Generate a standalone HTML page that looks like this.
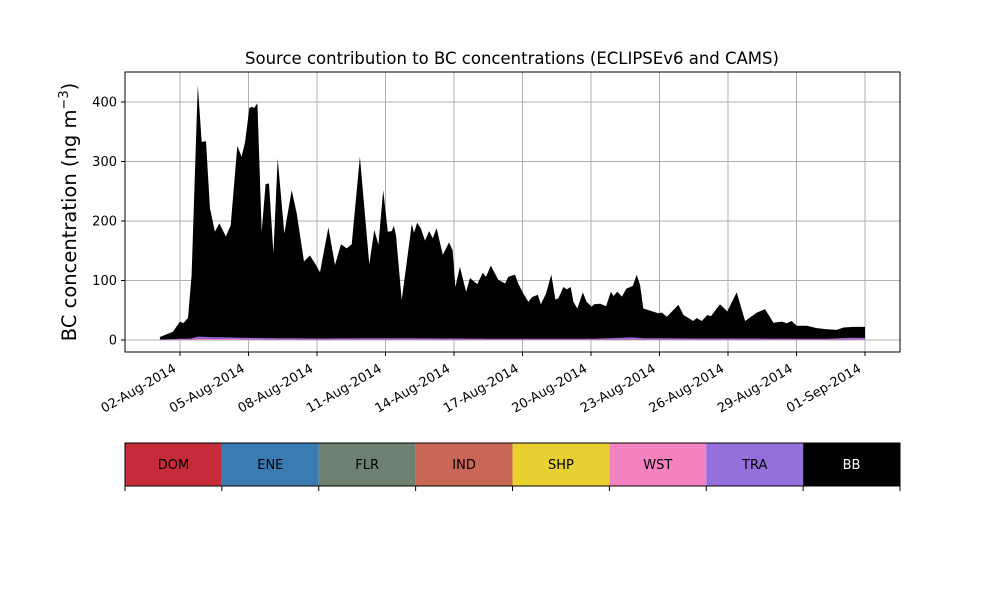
<!DOCTYPE html>
<html><head><meta charset="utf-8"><style>
body{margin:0;background:#fff;}
svg{display:block;font-family:"DejaVu Sans","Liberation Sans",sans-serif;}
</style></head><body>
<svg id="chart" width="1000" height="600" viewBox="0 0 1000 600"></svg>
<script>
const bbDays=[1.12,1.69,2.00,2.14,2.35,2.51,2.78,2.95,3.14,3.31,3.53,3.72,4.01,4.22,4.51,4.70,4.85,5.04,5.14,5.25,5.39,5.58,5.75,5.90,6.09,6.28,6.57,6.89,7.11,7.43,7.69,7.91,8.13,8.50,8.79,9.05,9.30,9.52,9.88,10.29,10.51,10.69,10.90,11.10,11.27,11.37,11.46,11.71,12.15,12.25,12.39,12.54,12.73,12.91,13.07,13.24,13.51,13.78,13.94,14.06,14.26,14.53,14.70,15.02,15.26,15.40,15.61,15.94,16.24,16.38,16.67,16.81,17.04,17.26,17.41,17.67,17.80,18.03,18.26,18.44,18.57,18.79,18.94,19.11,19.23,19.40,19.64,19.81,20.03,20.13,20.40,20.66,20.87,20.98,21.15,21.36,21.54,21.83,22.00,22.15,22.29,22.95,23.10,23.32,23.83,24.05,24.48,24.63,24.85,25.10,25.25,25.65,25.97,26.38,26.75,27.26,27.62,27.99,28.36,28.57,28.79,29.01,29.45,29.89,30.33,30.77,31.06,31.49,32.00];
const bbTotal=[5,14,31,28,37,109,428,333,334,222,182,196,174,193,326,308,333,390,392,390,398,182,262,263,146,305,179,252,213,132,142,129,114,189,126,161,154,161,308,127,185,160,252,182,183,192,176,67,195,180,197,188,167,183,171,188,143,164,151,89,123,81,104,94,113,106,125,101,95,106,110,95,78,64,72,76,60,78,110,68,70,89,85,89,64,53,80,64,56,60,61,57,81,74,81,73,86,91,110,92,53,45,46,39,59,42,32,37,32,42,40,60,48,80,32,46,52,29,31,28,32,24,24,20,18,17,21,22,22];
const minorDays=[1.12,2.5,2.8,3.2,5.0,8.0,11.0,14.0,17.0,20.0,21.8,22.3,25.0,27.0,30.5,31.2,32.0];
const traValues=[0.5,1.5,4,3,2,1.5,2,1.5,1,1,3,2,1.5,1.5,1,2.5,2];
const wstValues=[0.5,1,2,2,1.5,1,1,1,1,1,1.5,1,1,1,1,1.5,1.5];
const yTicks=[0,100,200,300,400];
const xTickDays=[2,5,8,11,14,17,20,23,26,29,32];
const xTickLabels=["02-Aug-2014","05-Aug-2014","08-Aug-2014","11-Aug-2014","14-Aug-2014","17-Aug-2014","20-Aug-2014","23-Aug-2014","26-Aug-2014","29-Aug-2014","01-Sep-2014"];
const sources=["DOM","ENE","FLR","IND","SHP","WST","TRA","BB"];
const sourceColors=["#c62b3a","#3a7bb2","#6e8170","#c96757","#e8d030","#f283c0","#9370db","#000000"];

const NS="http://www.w3.org/2000/svg";
const svg=document.getElementById('chart');
const L=125,R=900,T=72,B=352;
const xs=d=>180+(d-2)*22.833;
const ys=v=>340-v*0.595;
function mk(tag,attrs,parent){const e=document.createElementNS(NS,tag);for(const k in attrs)e.setAttribute(k,attrs[k]);(parent||svg).appendChild(e);return e;}

yTicks.forEach(v=>{const g=mk('line',{x1:L,x2:R,y1:ys(v),y2:ys(v),stroke:'#b0b0b0','stroke-width':1});

});
xTickDays.forEach(d=>{const g=mk('line',{x1:xs(d),x2:xs(d),y1:T,y2:B,stroke:'#b0b0b0','stroke-width':1});

});

function interp(days,vals,d){if(d<=days[0])return vals[0];for(let i=1;i<days.length;i++){if(d<=days[i]){const t=(d-days[i-1])/(days[i]-days[i-1]);return vals[i-1]+t*(vals[i]-vals[i-1]);}}return vals[vals.length-1];}

let p='M'+xs(bbDays[0])+','+ys(0);
bbDays.forEach((d,i)=>{p+=' L'+xs(d).toFixed(1)+','+ys(bbTotal[i]).toFixed(1);});
p+=' L'+xs(bbDays[bbDays.length-1])+','+ys(0)+' Z';
const bb=mk('path',{d:p,fill:'#000'});



function area(vals,base,color,name){let top='',bot='';
bbDays.forEach((d,i)=>{const b0=base?interp(minorDays,base,d):0;const v=b0+interp(minorDays,vals,d);
top+=(i?' L':'M')+xs(d).toFixed(1)+','+ys(v).toFixed(1);});
for(let i=bbDays.length-1;i>=0;i--){const d=bbDays[i];const b0=base?interp(minorDays,base,d):0;bot+=' L'+xs(d).toFixed(1)+','+ys(b0).toFixed(1);}
const a=mk('path',{d:top+bot+' Z',fill:color});

}
area(wstValues,null,'#f283c0','wst-area');
area(traValues,wstValues,'#9370db','tra-area');

const fr=mk('rect',{x:L,y:T,width:R-L,height:B-T,fill:'none',stroke:'#000','stroke-width':1});



yTicks.forEach(v=>{mk('line',{x1:L-4,x2:L,y1:ys(v),y2:ys(v),stroke:'#000'});
const t=mk('text',{x:L-8,y:ys(v)+4.5,'text-anchor':'end','font-size':13});t.textContent=v;

});
xTickDays.forEach((d,i)=>{const x=xs(d);mk('line',{x1:x,x2:x,y1:B,y2:B+4,stroke:'#000'});
const tx=x-3,ty=B+19;
const t=mk('text',{x:tx,y:ty,'text-anchor':'end','font-size':13,transform:'rotate(-30 '+tx+' '+ty+')'});t.textContent=xTickLabels[i];

});

const ti=mk('text',{x:512,y:64,'text-anchor':'middle','font-size':16.5});ti.textContent='Source contribution to BC concentrations (ECLIPSEv6 and CAMS)';


const yl=mk('text',{x:76,y:212,'text-anchor':'middle','font-size':19.5,transform:'rotate(-90 76 212)'});
yl.innerHTML='BC concentration (ng m<tspan dy="-8" font-size="13">−3</tspan><tspan dy="8">)</tspan>';



const w=(R-L)/sources.length;
sources.forEach((s,i)=>{const x=L+i*w;
const r=mk('rect',{x:x,y:443,width:w,height:43,fill:sourceColors[i]});


const t=mk('text',{x:x+w/2,y:469,'text-anchor':'middle','font-size':13,fill:s==='BB'?'#fff':'#000'});t.textContent=s;

});
for(let i=0;i<=sources.length;i++){const x=L+i*w;mk('line',{x1:x,x2:x,y1:486,y2:491,stroke:'#000'});}
const lb=mk('rect',{x:L,y:443,width:R-L,height:43,fill:'none',stroke:'#000'});


</script>
</body></html>
